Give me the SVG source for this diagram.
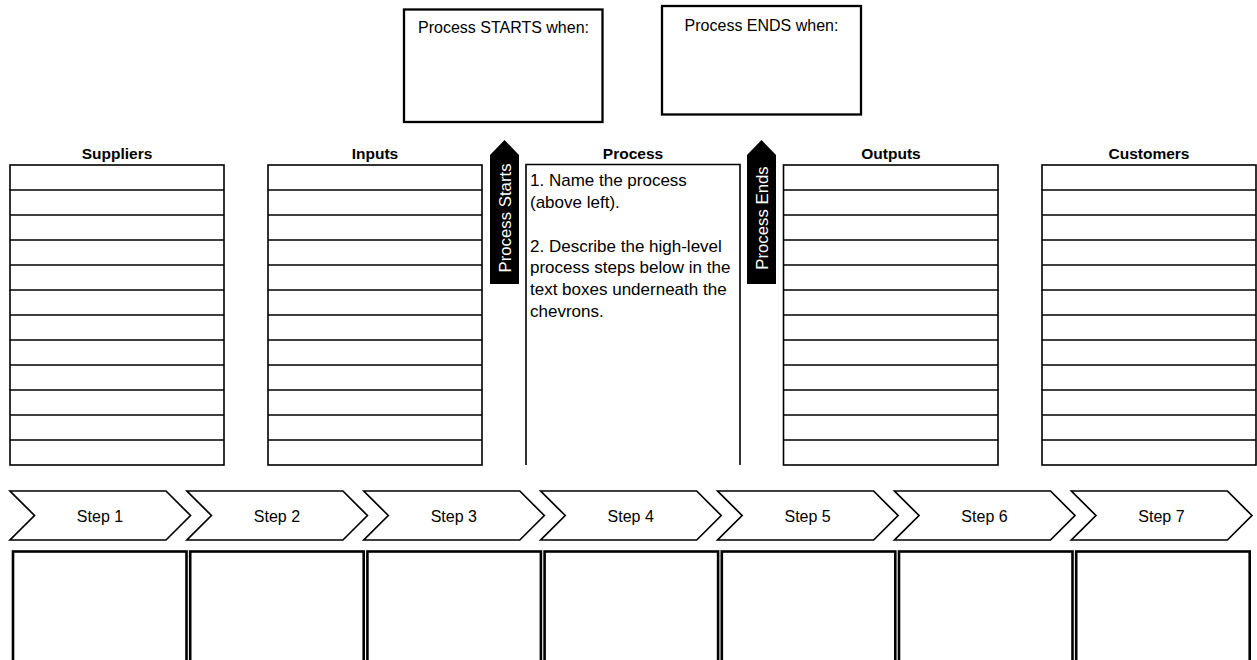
<svg xmlns="http://www.w3.org/2000/svg" width="1257" height="660" viewBox="0 0 1257 660">
<style>
text{font-family:"Liberation Sans",Arial,sans-serif;fill:#000}
.hdr{font-size:15.5px;font-weight:bold;text-anchor:middle}
.txt{font-size:16px}
.body{font-size:17px}
.wt{font-size:16.8px;fill:#fff;text-anchor:middle}
.tbl{fill:#fff;stroke:#000;stroke-width:1.6}
.line{fill:none;stroke:#000;stroke-width:1.6}
.top{fill:#fff;stroke:#000;stroke-width:2.3}
.arr{fill:#000;stroke:none}
.chev{fill:#fff;stroke:#000;stroke-width:1.7;stroke-linejoin:miter}
.box{fill:#fff;stroke:#000;stroke-width:2.6}
.step{font-size:16px;text-anchor:middle}
</style>
<rect width="1257" height="660" fill="#fff"/>

<g id="start-box">
<rect class="top" x="404" y="9.5" width="198.5" height="112.5"/>
<text class="txt" x="503.5" y="33" text-anchor="middle">Process STARTS when:</text>
</g>
<g id="end-box">
<rect class="top" x="662" y="6" width="199" height="108.5"/>
<text class="txt" x="761.5" y="30.5" text-anchor="middle">Process ENDS when:</text>
</g>

<g id="suppliers">
<text class="hdr" x="117" y="159">Suppliers</text>
<rect class="tbl" x="10" y="165" width="214" height="300"/>
<path class="line" d="M10 190H224M10 215H224M10 240H224M10 265H224M10 290H224M10 315H224M10 340H224M10 365H224M10 390H224M10 415H224M10 440H224"/>
</g>
<g id="inputs">
<text class="hdr" x="375" y="159">Inputs</text>
<rect class="tbl" x="268" y="165" width="214" height="300"/>
<path class="line" d="M268 190H482M268 215H482M268 240H482M268 265H482M268 290H482M268 315H482M268 340H482M268 365H482M268 390H482M268 415H482M268 440H482"/>
</g>
<g id="process">
<text class="hdr" x="633" y="159">Process</text>
<path class="line" d="M526 465V164.5H740V465"/>
<text class="body" x="530" y="186">1. Name the process</text>
<text class="body" x="530" y="208">(above left).</text>
<text class="body" x="530" y="251.5">2. Describe the high-level</text>
<text class="body" x="530" y="273">process steps below in the</text>
<text class="body" x="530" y="295">text boxes underneath the</text>
<text class="body" x="530" y="316.5">chevrons.</text>
</g>
<g id="outputs">
<text class="hdr" x="891" y="159">Outputs</text>
<rect class="tbl" x="783.5" y="165" width="214.5" height="300"/>
<path class="line" d="M783.5 190H998M783.5 215H998M783.5 240H998M783.5 265H998M783.5 290H998M783.5 315H998M783.5 340H998M783.5 365H998M783.5 390H998M783.5 415H998M783.5 440H998"/>
</g>
<g id="customers">
<text class="hdr" x="1149" y="159">Customers</text>
<rect class="tbl" x="1042" y="165" width="214" height="300"/>
<path class="line" d="M1042 190H1256M1042 215H1256M1042 240H1256M1042 265H1256M1042 290H1256M1042 315H1256M1042 340H1256M1042 365H1256M1042 390H1256M1042 415H1256M1042 440H1256"/>
</g>

<g id="arrow-starts">
<path class="arr" d="M490 155L504.5 140L519 155V284H490Z"/>
<text class="wt" x="504.5" y="224" transform="rotate(-90 504.5 218)">Process Starts</text>
</g>
<g id="arrow-ends">
<path class="arr" d="M747 155L761.5 140L776 155V284H747Z"/>
<text class="wt" x="761.5" y="224" transform="rotate(-90 761.5 218)">Process Ends</text>
</g>

<g id="connectors"></g>

<g id="step1"><path class="chev" d="M10 491H166L190.5 515.5L166 540H10L34.5 515.5Z"/><text class="step" x="100" y="521.5">Step 1</text></g>
<g id="step2"><path class="chev" d="M186.9 491H342.9L367.4 515.5L342.9 540H186.9L211.4 515.5Z"/><text class="step" x="276.9" y="521.5">Step 2</text></g>
<g id="step3"><path class="chev" d="M363.8 491H519.8L544.3 515.5L519.8 540H363.8L388.3 515.5Z"/><text class="step" x="453.8" y="521.5">Step 3</text></g>
<g id="step4"><path class="chev" d="M540.7 491H696.7L721.2 515.5L696.7 540H540.7L565.2 515.5Z"/><text class="step" x="630.7" y="521.5">Step 4</text></g>
<g id="step5"><path class="chev" d="M717.6 491H873.6L898.1 515.5L873.6 540H717.6L742.1 515.5Z"/><text class="step" x="807.6" y="521.5">Step 5</text></g>
<g id="step6"><path class="chev" d="M894.5 491H1050.5L1075 515.5L1050.5 540H894.5L919 515.5Z"/><text class="step" x="984.5" y="521.5">Step 6</text></g>
<g id="step7"><path class="chev" d="M1071.4 491H1227.4L1251.9 515.5L1227.4 540H1071.4L1095.9 515.5Z"/><text class="step" x="1161.4" y="521.5">Step 7</text></g>

<g id="box1"><rect class="box" x="13" y="551.5" width="173.5" height="120"/></g>
<g id="box2"><rect class="box" x="190.2" y="551.5" width="173.5" height="120"/></g>
<g id="box3"><rect class="box" x="367.4" y="551.5" width="173.5" height="120"/></g>
<g id="box4"><rect class="box" x="544.6" y="551.5" width="173.5" height="120"/></g>
<g id="box5"><rect class="box" x="721.8" y="551.5" width="173.5" height="120"/></g>
<g id="box6"><rect class="box" x="899" y="551.5" width="173.5" height="120"/></g>
<g id="box7"><rect class="box" x="1076.2" y="551.5" width="173.5" height="120"/></g>
</svg>
